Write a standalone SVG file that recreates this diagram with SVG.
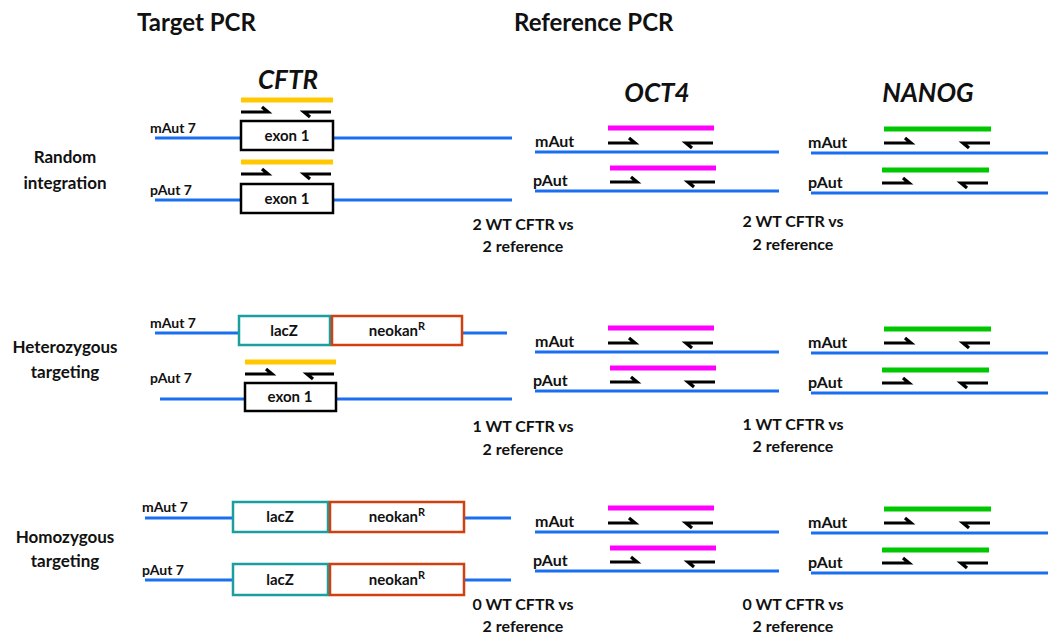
<svg xmlns="http://www.w3.org/2000/svg" width="1048" height="634" viewBox="0 0 1048 634">
<defs>
<style>
text{font-family:Lato,"Open Sans","Liberation Sans",sans-serif;font-weight:bold;fill:#111}
.title{font-size:24px}
.gene{font-size:26px;font-style:italic;text-anchor:middle}
.row{font-size:17px;text-anchor:middle}
.lab{font-size:14px}
.rlab{font-size:16px}
.box{font-size:15px;text-anchor:middle}
.res{font-size:16px;text-anchor:middle}
.dna{stroke:#1a6ff0;stroke-width:3;fill:none}
.yb{stroke:#ffc800;stroke-width:5}
.mb{stroke:#ff00ff;stroke-width:5}
.gb{stroke:#00c800;stroke-width:5}
.ex{fill:#fff;stroke:#000;stroke-width:2.5}
.lz{fill:#fff;stroke:#1a9e9e;stroke-width:2.5}
.nk{fill:#fff;stroke:#d04010;stroke-width:2.5}
.pr{fill:none;stroke:#000;stroke-width:3.2}
</style>
<path id="fw" class="pr" d="M0,0 H27 L21,-5"/>
<path id="rv" class="pr" d="M0,0 H-27 L-21,5"/>
</defs>
<rect width="1048" height="634" fill="#fff"/>

<g id="headers">
<text class="title" x="137" y="31">Target PCR</text>
<text class="title" x="514" y="31">Reference PCR</text>
<text class="gene" x="288" y="89">CFTR</text>
<text class="gene" x="657" y="102">OCT4</text>
<text class="gene" x="928" y="102">NANOG</text>
</g>

<g id="row-labels">
<text class="row" x="65" y="163">Random</text>
<text class="row" x="65" y="189">integration</text>
<text class="row" x="65" y="353">Heterozygous</text>
<text class="row" x="65" y="378">targeting</text>
<text class="row" x="65" y="543">Homozygous</text>
<text class="row" x="65" y="567">targeting</text>
</g>

<g id="connectors">
<line class="dna" x1="155" y1="138" x2="241" y2="138"/><line class="dna" x1="334" y1="138" x2="512" y2="138"/>
<line class="dna" x1="155" y1="200" x2="241" y2="200"/><line class="dna" x1="334" y1="200" x2="512" y2="200"/>
<line class="dna" x1="155" y1="333" x2="239" y2="333"/><line class="dna" x1="462" y1="333" x2="507" y2="333"/>
<line class="dna" x1="160" y1="399" x2="245" y2="399"/><line class="dna" x1="337" y1="399" x2="512" y2="399"/>
<line class="dna" x1="145" y1="518" x2="233" y2="518"/><line class="dna" x1="464" y1="518" x2="511" y2="518"/>
<line class="dna" x1="145" y1="580" x2="233" y2="580"/><line class="dna" x1="464" y1="580" x2="511" y2="580"/>
<line class="dna" x1="535" y1="152" x2="779" y2="152"/><line class="dna" x1="535" y1="191" x2="779" y2="191"/>
<line class="dna" x1="811" y1="153" x2="1048" y2="153"/><line class="dna" x1="811" y1="193" x2="1048" y2="193"/>
<line class="dna" x1="535" y1="352" x2="779" y2="352"/><line class="dna" x1="535" y1="391" x2="779" y2="391"/>
<line class="dna" x1="811" y1="353" x2="1048" y2="353"/><line class="dna" x1="811" y1="393" x2="1048" y2="393"/>
<line class="dna" x1="535" y1="532" x2="779" y2="532"/><line class="dna" x1="535" y1="571" x2="779" y2="571"/>
<line class="dna" x1="811" y1="533" x2="1048" y2="533"/><line class="dna" x1="811" y1="573" x2="1048" y2="573"/>
</g>

<g id="target-random">
<text class="lab" x="150" y="133">mAut 7</text>
<line class="yb" x1="241" y1="100" x2="333" y2="100"/>
<use href="#fw" x="241" y="112"/><use href="#rv" x="331" y="112"/>
<rect class="ex" x="241" y="121" width="92" height="29"/>
<text class="box" x="287" y="141">exon 1</text>
<text class="lab" x="150" y="195">pAut 7</text>
<line class="yb" x1="241" y1="162" x2="333" y2="162"/>
<use href="#fw" x="241" y="174"/><use href="#rv" x="331" y="174"/>
<rect class="ex" x="241" y="184" width="92" height="29"/>
<text class="box" x="287" y="204">exon 1</text>
</g>

<g id="target-hetero">
<text class="lab" x="150" y="328">mAut 7</text>
<rect class="lz" x="239" y="316" width="91" height="29"/>
<text class="box" x="284" y="336">lacZ</text>
<rect class="nk" x="332" y="316" width="130" height="29"/>
<text class="box" x="397" y="336">neokan<tspan font-size="11" dy="-6">R</tspan></text>
<text class="lab" x="150" y="383">pAut 7</text>
<line class="yb" x1="245" y1="362" x2="336" y2="362"/>
<use href="#fw" x="245" y="374"/><use href="#rv" x="334" y="374"/>
<rect class="ex" x="245" y="383" width="91" height="28"/>
<text class="box" x="290" y="402">exon 1</text>
</g>

<g id="target-homo">
<text class="lab" x="142" y="512">mAut 7</text>
<rect class="lz" x="233" y="502" width="95" height="30"/>
<text class="box" x="280" y="522">lacZ</text>
<rect class="nk" x="330" y="502" width="134" height="30"/>
<text class="box" x="397" y="522">neokan<tspan font-size="11" dy="-6">R</tspan></text>
<text class="lab" x="142" y="575">pAut 7</text>
<rect class="lz" x="233" y="564" width="95" height="31"/>
<text class="box" x="280" y="585">lacZ</text>
<rect class="nk" x="330" y="564" width="134" height="31"/>
<text class="box" x="397" y="585">neokan<tspan font-size="11" dy="-6">R</tspan></text>
</g>

<g id="ref-oct4-1">
<text class="rlab" x="535" y="147">mAut</text>
<line class="mb" x1="608" y1="128" x2="714" y2="128"/>
<use href="#fw" x="608" y="143"/><use href="#rv" x="713" y="143"/>
<text class="rlab" x="533" y="186">pAut</text>
<line class="mb" x1="610" y1="168" x2="716" y2="168"/>
<use href="#fw" x="610" y="182"/><use href="#rv" x="715" y="182"/>
</g>
<g id="ref-nanog-1">
<text class="rlab" x="808" y="148">mAut</text>
<line class="gb" x1="884" y1="129" x2="991" y2="129"/>
<use href="#fw" x="884" y="143"/><use href="#rv" x="990" y="143"/>
<text class="rlab" x="808" y="188">pAut</text>
<line class="gb" x1="882" y1="170" x2="989" y2="170"/>
<use href="#fw" x="882" y="183"/><use href="#rv" x="988" y="183"/>
</g>

<g id="ref-oct4-2">
<text class="rlab" x="535" y="347">mAut</text>
<line class="mb" x1="608" y1="328" x2="714" y2="328"/>
<use href="#fw" x="608" y="343"/><use href="#rv" x="713" y="343"/>
<text class="rlab" x="533" y="386">pAut</text>
<line class="mb" x1="610" y1="368" x2="716" y2="368"/>
<use href="#fw" x="610" y="382"/><use href="#rv" x="715" y="382"/>
</g>
<g id="ref-nanog-2">
<text class="rlab" x="808" y="348">mAut</text>
<line class="gb" x1="884" y1="329" x2="991" y2="329"/>
<use href="#fw" x="884" y="343"/><use href="#rv" x="990" y="343"/>
<text class="rlab" x="808" y="388">pAut</text>
<line class="gb" x1="882" y1="370" x2="989" y2="370"/>
<use href="#fw" x="882" y="383"/><use href="#rv" x="988" y="383"/>
</g>

<g id="ref-oct4-3">
<text class="rlab" x="535" y="527">mAut</text>
<line class="mb" x1="608" y1="508" x2="714" y2="508"/>
<use href="#fw" x="608" y="523"/><use href="#rv" x="713" y="523"/>
<text class="rlab" x="533" y="566">pAut</text>
<line class="mb" x1="610" y1="548" x2="716" y2="548"/>
<use href="#fw" x="610" y="562"/><use href="#rv" x="715" y="562"/>
</g>
<g id="ref-nanog-3">
<text class="rlab" x="808" y="528">mAut</text>
<line class="gb" x1="884" y1="509" x2="991" y2="509"/>
<use href="#fw" x="884" y="523"/><use href="#rv" x="990" y="523"/>
<text class="rlab" x="808" y="568">pAut</text>
<line class="gb" x1="882" y1="550" x2="989" y2="550"/>
<use href="#fw" x="882" y="563"/><use href="#rv" x="988" y="563"/>
</g>

<g id="results">
<text class="res" x="523" y="230">2 WT CFTR vs</text>
<text class="res" x="523" y="252">2 reference</text>
<text class="res" x="793" y="227">2 WT CFTR vs</text>
<text class="res" x="793" y="250">2 reference</text>
<text class="res" x="523" y="432">1 WT CFTR vs</text>
<text class="res" x="523" y="455">2 reference</text>
<text class="res" x="793" y="430">1 WT CFTR vs</text>
<text class="res" x="793" y="452">2 reference</text>
<text class="res" x="523" y="610">0 WT CFTR vs</text>
<text class="res" x="523" y="632">2 reference</text>
<text class="res" x="793" y="610">0 WT CFTR vs</text>
<text class="res" x="793" y="632">2 reference</text>
</g>
</svg>
